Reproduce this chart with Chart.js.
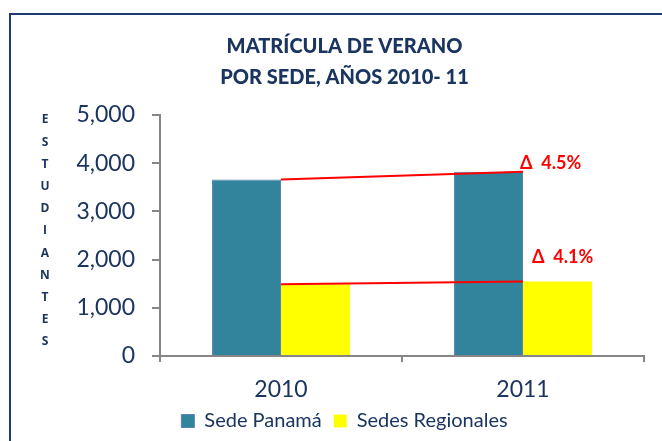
<!DOCTYPE html>
<html>
<head>
<meta charset="utf-8">
<script src="https://cdn.jsdelivr.net/npm/chart.js@4"></script>
<style>
  html, body { margin: 0; padding: 0; background: #fff; }
  #wrap { width: 662px; height: 441px; }
</style>
</head>
<body>
<div id="wrap"><canvas id="chart" width="662" height="441"></canvas></div>
<script>
const years = ["2010", "2011"];
const sedePanama = [3660, 3825];
const sedesRegionales = [1487, 1548];
const deltaLabels = ["Δ  4.5%", "Δ  4.1%"];
const yTicks = [0, 1000, 2000, 3000, 4000, 5000];
const titleLines = ["MATRÍCULA DE VERANO", "POR SEDE, AÑOS 2010- 11"];
const yTitle = "ESTUDIANTES";

const navy = "#1A3560";
const axisGray = "#868686";

// frame, stacked axis title, red trend lines and labels
const extras = {
    id: "extras",
    beforeDraw(chart) {
        const ctx = chart.ctx;
        ctx.save();
        ctx.strokeStyle = "#1F3A6E";
        ctx.lineWidth = 2;
        ctx.beginPath();
        ctx.moveTo(10, 441);
        ctx.lineTo(10, 14);
        ctx.lineTo(662, 14);
        ctx.stroke();
        ctx.restore();
    },
    afterDatasetsDraw(chart) {
        const ctx = chart.ctx;
        const a = chart.getDatasetMeta(0).data;
        const b = chart.getDatasetMeta(1).data;

        ctx.save();
        ctx.fillStyle = navy;
        ctx.font = "bold 12px 'Open Sans'";
        ctx.textAlign = "center";
        ctx.textBaseline = "middle";
        const letters = yTitle.split("");
        letters.forEach((ch, i) => {
            ctx.fillText(ch, 45, 120 + i * 22.2);
        });

        ctx.strokeStyle = "#FF0000";
        ctx.lineWidth = 2;
        ctx.beginPath();
        ctx.moveTo(a[0].x + a[0].width / 2, a[0].y);
        ctx.lineTo(a[1].x + a[1].width / 2, a[1].y);
        ctx.moveTo(b[0].x - b[0].width / 2, b[0].y);
        ctx.lineTo(b[1].x - b[1].width / 2, b[1].y);
        ctx.stroke();

        ctx.fillStyle = "#FF0000";
        ctx.font = "bold 18px Lato";
        ctx.textAlign = "left";
        ctx.textBaseline = "alphabetic";
        ctx.fillText(deltaLabels[0], a[1].x + a[1].width / 2 - 3, a[1].y - 3);
        ctx.fillText(deltaLabels[1], b[1].x - b[1].width / 2 + 9, b[1].y - 18);
        ctx.restore();
    }
};

new Chart(document.getElementById("chart"), {
    type: "bar",
    data: {
        labels: years,
        datasets: [{
            label: "Sede Panamá",
            data: sedePanama,
            backgroundColor: "#31849B",
            borderColor: "#5B82B5",
            borderWidth: 1,
            barPercentage: 1,
            categoryPercentage: 0.57
        }, {
            label: "Sedes Regionales",
            data: sedesRegionales,
            backgroundColor: "#FFFF00",
            borderWidth: 0,
            barPercentage: 1,
            categoryPercentage: 0.57
        }]
    },
    options: {
        responsive: false,
        animation: false,
        layout: { padding: { left: 45, right: 18, top: 0, bottom: 0 } },
        plugins: {
            title: {
                display: true,
                text: titleLines,
                color: navy,
                font: { family: "Lato", size: 20, weight: "900", lineHeight: 1.55 },
                padding: { top: 31, bottom: 22 }
            },
            legend: {
                position: "bottom",
                labels: {
                    color: navy,
                    font: { family: "Lato", size: 20 },
                    boxWidth: 13,
                    boxHeight: 13,
                    padding: 12
                }
            },
            tooltip: { enabled: false }
        },
        scales: {
            x: {
                grid: { drawOnChartArea: false, tickLength: 6, color: axisGray, lineWidth: 2 },
                border: { color: axisGray, width: 2 },
                ticks: { color: navy, font: { family: "Lato", size: 23 }, padding: 14 },
                afterFit(scale) { scale.height = 43; }
            },
            y: {
                min: 0,
                max: 5000,
                grid: { drawOnChartArea: false, tickLength: 8, color: axisGray, lineWidth: 2 },
                border: { color: axisGray, width: 2 },
                afterBuildTicks(scale) { scale.ticks = yTicks.map(v => ({ value: v })); },
                ticks: {
                    color: navy,
                    font: { family: "Lato", size: 23 },
                    padding: 17,
                    callback: v => v.toLocaleString("en-US")
                },
                afterFit(scale) { scale.width = 115; }
            }
        }
    },
    plugins: [extras]
});
</script>
</body>
</html>
